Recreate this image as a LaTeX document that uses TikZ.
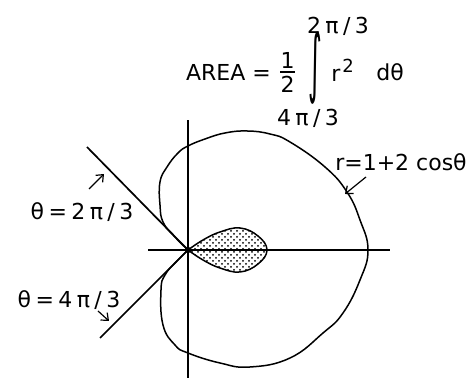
\documentclass[tikz,border=0pt]{standalone}
\usepackage{graphicx}
\usepackage{fontspec}
\setmainfont{DejaVu Sans}
\newfontfamily\widefont[LetterSpace=20]{DejaVu Sans}
\usetikzlibrary{arrows.meta,patterns}

\begin{document}
\begin{tikzpicture}[x=0.5pt,y=0.5pt,
  every node/.style={font=\fontsize{11}{13}\selectfont, inner sep=0pt},
  lbl/.style={font=\fontsize{11}{13}\selectfont\widefont},
  curve/.style={line width=0.75pt},
  axis/.style={line width=0.85pt},
  pointer/.style={-{Straight Barb[length=3pt,width=5pt]},line width=0.6pt}]
  \useasboundingbox (-188,-128) rectangle (288,250);
  \coordinate (pole) at (0,0);
  % axes and the two rays
  \draw[axis] (-40,0) -- (202,0);
  \draw[axis] (0,-128) -- (0,130);
  \draw[axis] (pole) -- (-101,103);
  \draw[axis] (pole) -- (-88,-88);
  % outer loop of r=1+2cos(theta)
  \draw[curve] plot[smooth,tension=0.75] coordinates {(0,0) (-14,14) (-25,28) (-28,45)
    (-28,68) (-21,83) (-10,97) (0,104) (17,111) (37,117) (59,119) (82,116) (102,108)
    (137,83) (159,58) (172,30) (180,0) (172,-30) (155,-63) (135,-83) (102,-108)
    (62,-117) (32,-113) (0,-103) (-13,-95) (-25,-75) (-27,-40) (-23,-25) (-12,-12) (0,0)};
  % inner loop, shaded
  \draw[curve,pattern=crosshatch dots] plot[smooth,tension=0.7] coordinates {(0,0) (15,10) (32,18)
    (52,22) (70,14) (79,0) (70,-14) (52,-22) (32,-18) (15,-10) (0,0)} -- cycle;
  \fill (pole) circle (1.6pt);
  % labels
  \node[lbl] (t2) at (-106,38) {θ=2π/3};
  \coordinate (t2tail) at (-99,61);
  \coordinate (t2head) at (-84,76);
  \draw[pointer] (t2tail) -- (t2head);
  \node[lbl] (t4) at (-119,-50) {θ=4π/3};
  \coordinate (t4tail) at (-90,-61);
  \coordinate (t4head) at (-79,-71);
  \draw[pointer] (t4tail) -- (t4head);
  \node (eq) at (213,88) {r=1+2 cosθ};
  \coordinate (eqtail) at (178,73);
  \coordinate (eqhead) at (157,56);
  \draw[pointer] (eqtail) -- (eqhead);
  % area formula
  \node (area) at (40.5,178) {AREA =};
  \node (one) at (99.5,190) {1};
  \node (two) at (99.5,166) {2};
  \draw[line width=0.7pt] (92,178) -- (107,178);
  \node (int) at (127,182) {\scalebox{1.2}[3.4]{∫}};
  \node (r) at (148,175) {r};
  \node[font=\fontsize{9}{11}\selectfont] (sq) at (160,184) {2};
  \node (dth) at (202,178) {dθ};
  \node[lbl] (upper) at (150,224) {2π/3};
  \node[lbl] (lower) at (120,132) {4π/3};
\end{tikzpicture}
\end{document}
